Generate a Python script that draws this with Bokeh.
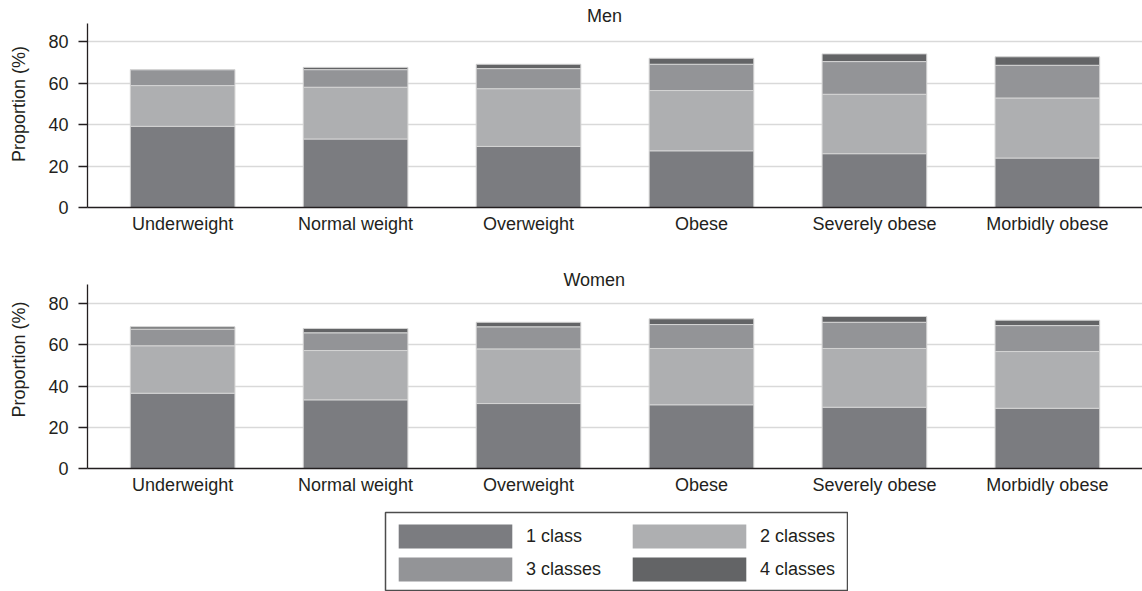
from bokeh.plotting import figure
from bokeh.models import (FactorRange, Range1d, FixedTicker, Legend, LegendItem,
                          ColumnDataSource, Spacer)
from bokeh.layouts import column, row
from bokeh.core.properties import value
from bokeh.embed import file_html
from bokeh.resources import INLINE

# ---------------- data ----------------
categories = ["Underweight", "Normal weight", "Overweight", "Obese",
              "Severely obese", "Morbidly obese"]
series_names = ["1 class", "2 classes", "3 classes", "4 classes"]

men_1 = [39.2, 33.1, 29.5, 27.4, 26.0, 23.9]
men_2 = [19.7, 25.0, 27.9, 29.1, 28.7, 29.0]
men_3 = [7.7, 8.5, 9.7, 12.7, 15.8, 15.8]
men_4 = [0.0, 1.1, 2.1, 2.9, 3.7, 4.1]

women_1 = [36.5, 33.3, 31.5, 30.9, 29.7, 29.2]
women_2 = [23.0, 23.9, 26.5, 27.3, 28.5, 27.5]
women_3 = [8.1, 8.6, 10.7, 11.6, 12.7, 12.6]
women_4 = [1.1, 2.1, 2.2, 2.8, 2.8, 2.6]

y_ticks = [0, 20, 40, 60, 80]
panel_titles = ["Men", "Women"]
y_label = "Proportion (%)"

# ---------------- style ----------------
colors = ["#7b7c80", "#aeafb1", "#939497", "#636466"]
FONT = "Liberation Sans"
TXT = "#231f20"
FS = "18px"


def make_panel(title, vals, height, bottom, y_end, title_x, title_y):
    data = {"category": categories}
    for name, v in zip(series_names, vals):
        data[name] = v
    src = ColumnDataSource(data)

    p = figure(x_range=FactorRange(factors=categories, range_padding=0.05,
                                   range_padding_units="absolute"),
               y_range=Range1d(0, y_end),
               width=1142, height=height,
               output_backend="svg", toolbar_location=None,
               min_border_left=87, min_border_right=0,
               min_border_top=0, min_border_bottom=bottom)
    p.outline_line_color = None
    p.background_fill_color = "white"

    p.vbar_stack(series_names, x="category", width=0.605, source=src,
                 fill_color=colors, line_color="#d4d4d4", line_width=1)

    p.text(x=[title_x], y=[title_y], text=[title],
           text_font=value(FONT), text_font_size=FS,
           text_align="center", text_baseline="middle", text_color=TXT)

    p.xgrid.visible = False
    p.ygrid.ticker = FixedTicker(ticks=y_ticks)
    p.ygrid.grid_line_color = "#d9d9d9"
    p.ygrid.grid_line_width = 1.5

    xa = p.xaxis[0]
    xa.axis_line_color = TXT
    xa.axis_line_width = 1.3
    xa.major_tick_line_color = None
    xa.minor_tick_line_color = None
    xa.major_label_text_font = FONT
    xa.major_label_text_font_size = FS
    xa.major_label_text_color = TXT
    xa.major_label_standoff = 0

    ya = p.yaxis[0]
    ya.ticker = FixedTicker(ticks=y_ticks)
    ya.bounds = (0, 89)
    ya.axis_line_color = TXT
    ya.axis_line_width = 1.3
    ya.major_tick_line_color = TXT
    ya.major_tick_line_width = 1.3
    ya.major_tick_out = 9
    ya.major_tick_in = 0
    ya.minor_tick_line_color = None
    ya.major_label_text_font = FONT
    ya.major_label_text_font_size = FS
    ya.major_label_text_color = TXT
    ya.major_label_standoff = 10
    ya.axis_label = y_label
    ya.axis_label_text_font = FONT
    ya.axis_label_text_font_size = FS
    ya.axis_label_text_font_style = "normal"
    ya.axis_label_text_color = TXT
    ya.axis_label_standoff = 16
    return p


men = make_panel(panel_titles[0], [men_1, men_2, men_3, men_4],
                 height=250, bottom=43, y_end=100.0, title_x=2.94, title_y=92.4)
women = make_panel(panel_titles[1], [women_1, women_2, women_3, women_4],
                   height=259, bottom=41, y_end=105.7, title_x=2.88, title_y=91.6)

# ---------------- legend ----------------
lf = figure(width=464, height=82, x_range=Range1d(0, 1), y_range=Range1d(0, 1),
            x_axis_type=None, y_axis_type=None,
            output_backend="svg", toolbar_location=None,
            min_border_left=1, min_border_right=1,
            min_border_top=3, min_border_bottom=1)
lf.grid.visible = False
lf.outline_line_color = "#4d4d4d"
lf.outline_line_width = 1.5

# legend swatch renderers (placeholders kept outside the visible range)
rends = []
for c in colors:
    s = ColumnDataSource(dict(x=[-5.0], top=[-5.0]))
    rends.append(lf.vbar(x="x", top="top", width=0.5, source=s,
                         fill_color=c, line_color=None))


def make_legend(idx, loc):
    leg = Legend(items=[LegendItem(label=series_names[i], renderers=[rends[i]])
                        for i in idx],
                 location=loc, orientation="vertical",
                 glyph_width=142, glyph_height=30, label_height=30,
                 label_standoff=0, spacing=3, padding=0, margin=0,
                 border_line_color=None, background_fill_alpha=0,
                 label_text_font=FONT, label_text_font_size=FS,
                 label_text_color=TXT)
    lf.add_layout(leg)


make_legend([0, 2], (-1, 6))
make_legend([1, 3], (233, 6))

layout = column(men, women, row(Spacer(width=384, height=82), lf))

open("out.html", "w").write(file_html(layout, INLINE))
